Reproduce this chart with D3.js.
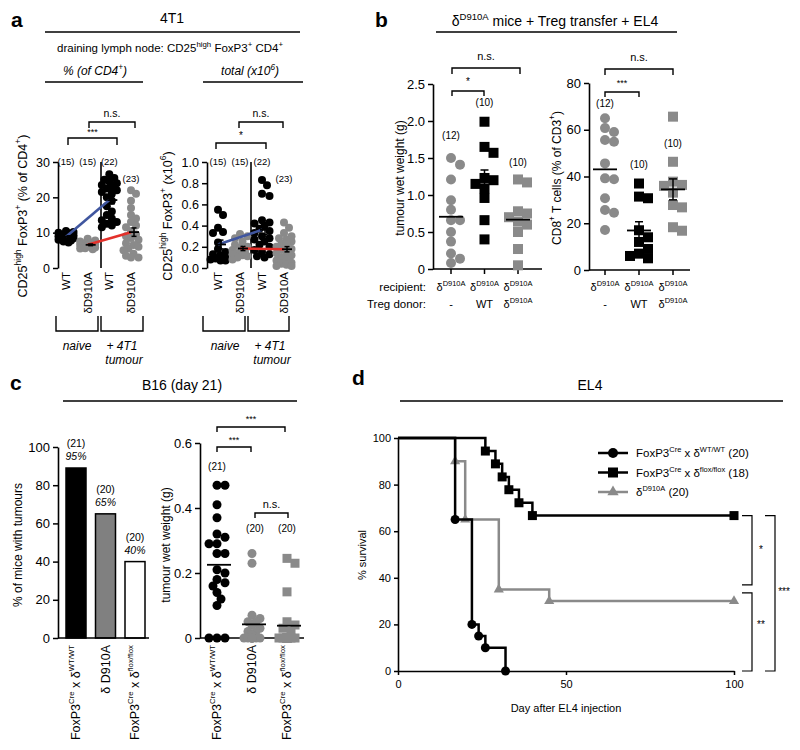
<!DOCTYPE html>
<html><head><meta charset="utf-8">
<script src="https://cdn.jsdelivr.net/npm/d3@7"></script>
<style>body{margin:0;background:#fff} svg{display:block} text{font-family:"Liberation Sans",Arial,Helvetica,sans-serif}</style>
</head><body><svg id="c" width="800" height="750"></svg>
<script>
// ================= DATA =================
// Panel a (4T1, draining lymph node CD25high FoxP3+ CD4+)
const aCategories = ["WT", "δD910A", "WT", "δD910A"];
const aCounts = ["(15)", "(15)", "(22)", "(23)"];
const aPctNaiveWT = [10.5,10.2,10.0,9.8,9.5,9.3,9.0,8.8,8.6,8.4,8.2,8.0,7.8,7.5,7.2];
const aPctNaiveD910A = [8.3,7.8,7.5,7.2,7.0,6.8,6.6,6.5,6.3,6.1,6.0,5.8,5.6,5.5,5.3];
const aPctTumourWT = [26.5,25.5,25,24.5,24,23.5,23,22.5,22,21.5,21,20,19,17.5,16,15,14,13.5,13,12.5,12,11.5];
const aPctTumourD910A = [22,21,19,17,15,14,13,12,11.5,10.5,9.5,9,8.5,8,7,6.5,6,5.5,5,4,3.5,3,3];
const aTotNaiveWT = [0.55,0.5,0.38,0.34,0.33,0.24,0.18,0.15,0.13,0.12,0.1,0.09,0.08,0.07,0.07];
const aTotNaiveD910A = [0.32,0.3,0.28,0.25,0.22,0.2,0.19,0.17,0.15,0.14,0.13,0.12,0.11,0.1,0.08];
const aTotTumourWT = [0.83,0.78,0.7,0.68,0.45,0.43,0.42,0.4,0.37,0.35,0.33,0.3,0.28,0.27,0.25,0.22,0.2,0.17,0.15,0.13,0.11,0.1];
const aTotTumourD910A = [0.43,0.38,0.33,0.3,0.28,0.27,0.25,0.23,0.22,0.2,0.18,0.17,0.15,0.14,0.12,0.1,0.09,0.07,0.05,0.04,0.03,0.02,0.02];
const aPctTicks = [0,10,20,30];
const aTotTicks = [0,0.2,0.4,0.6,0.8,1.0];

// Panel b (δD910A mice + Treg transfer + EL4)
const bRecipients = ["δ^{D910A}", "δ^{D910A}", "δ^{D910A}"];
const bDonors = ["-", "WT", "δ^{D910A}"];
const bWeightCounts = ["(12)", "(10)", "(10)"];
const bWeightNone = [1.50,1.41,1.21,0.93,0.80,0.66,0.66,0.50,0.37,0.21,0.14,0.08];
const bWeightWT = [1.99,1.65,1.57,1.23,1.20,1.15,1.09,0.96,0.66,0.40];
const bWeightD910A = [1.21,1.17,0.78,0.75,0.70,0.64,0.60,0.50,0.27,0.05];
const bWeightTicks = [0,0.5,1.0,1.5,2.0,2.5];
const bCD8Counts = ["(12)", "(10)", "(10)"];
const bCD8None = [64.9,60.7,59,55.6,54.9,45.6,39.2,38.8,30.7,25.7,24.5,17.1];
const bCD8WT = [37,31.4,30.7,17,14,12,9,7,6,5];
const bCD8D910A = [65.6,46.3,37.8,36.4,36,33.1,27.8,26.8,18.3,16.8];
const bCD8Ticks = [0,20,40,60,80];

// Panel c (B16 day 21)
const cGenotypes = ["FoxP3^{Cre} x δ^{WT/WT}", "δ D910A", "FoxP3^{Cre} x δ^{flox/flox}"];
const cTumourPct = [89, 65, 40];
const cBarCounts = ["(21)", "(20)", "(20)"];
const cBarLabels = ["95%", "65%", "40%"];
const cPctTicks = [0,20,40,60,80,100];
const cWeightCounts = ["(21)", "(20)", "(20)"];
const cWeightWT = [0.47,0.47,0.41,0.37,0.32,0.31,0.29,0.29,0.26,0.26,0.21,0.20,0.18,0.17,0.16,0.14,0.12,0.10,0,0,0];
const cWeightD910A = [0.26,0.23,0.07,0.06,0.05,0.05,0.04,0.03,0.02,0.02,0.01,0,0,0,0,0,0,0,0,0];
const cWeightFlox = [0.245,0.23,0.142,0.05,0.04,0.03,0.02,0,0,0,0,0,0,0,0,0,0,0,0,0];
const cWeightTicks = [0,0.2,0.4,0.6];

// Panel d (EL4 survival)
const dLegend = ["FoxP3^{Cre} x δ^{WT/WT} (20)", "FoxP3^{Cre} x δ^{flox/flox} (18)", "δ^{D910A} (20)"];
const dWTDays = [0,17,22,24,26,32];
const dWTSurv = [100,65,20,15,10,0];
const dFloxDays = [0,26,29,31,33,36,40,100];
const dFloxSurv = [100,94.4,88.9,83.3,77.8,72.2,66.7,66.7];
const dD910ADays = [0,17,20,30,45,100];
const dD910ASurv = [100,90,65,35,30,30];
const dXTicks = [0,50,100];
const dYTicks = [0,20,40,60,80,100];

// ================= HELPERS =================
const svg = d3.select("#c");
const GRAY = "#8a8a8a";
const BLUE = "#40569f";
const RED = "#e3312b";

function parseRich(str) {
  const segs = []; let i = 0, buf = "";
  while (i < str.length) {
    const c = str[i];
    if ((c === "^" || c === "_") && str[i+1] === "{") {
      if (buf) { segs.push({t: buf}); buf = ""; }
      const j = str.indexOf("}", i);
      segs.push({t: str.slice(i+2, j), sup: c === "^", sub: c === "_"});
      i = j + 1;
    } else { buf += c; i++; }
  }
  if (buf) segs.push({t: buf});
  return segs;
}
function rich(g, x, y, str, o = {}) {
  const fs = o.size || 12;
  const t = g.append("text").attr("x", x).attr("y", y)
    .attr("font-size", fs).attr("text-anchor", o.anchor || "start")
    .attr("fill", o.fill || "#000");
  if (o.italic) t.attr("font-style", "italic");
  if (o.weight) t.attr("font-weight", o.weight);
  if (o.baseline) t.attr("dominant-baseline", o.baseline);
  if (o.rotate) t.attr("transform", `rotate(${o.rotate},${x},${y})`);
  let cur = 0;
  const ss = o.supScale || 0.68;
  parseRich(str).forEach(s => {
    const sp = t.append("tspan").text(s.t);
    const target = s.sup ? -fs*0.42 : s.sub ? fs*0.25 : 0;
    if (target !== cur) { sp.attr("dy", target - cur); cur = target; }
    if (s.sup || s.sub) sp.attr("font-size", fs*ss);
  });
  return t;
}
function yAxis(g, scale, x, ticks, fmt, fs, tickLen = 5) {
  const a = g.append("g").attr("transform", `translate(${x},0)`)
    .call(d3.axisLeft(scale).tickValues(ticks).tickFormat(fmt).tickSize(tickLen).tickSizeOuter(0).tickPadding(3));
  a.select(".domain").attr("stroke", "#000").attr("stroke-width", 1.6);
  a.selectAll(".tick line").attr("stroke", "#000").attr("stroke-width", 1.5);
  a.selectAll("text").attr("font-size", fs).attr("fill", "#000")
    .attr("font-family", '"Liberation Sans", Arial, sans-serif');
  return a;
}
function xAxisLine(g, x0, x1, y) {
  g.append("line").attr("x1", x0).attr("x2", x1).attr("y1", y).attr("y2", y)
    .attr("stroke", "#000").attr("stroke-width", 1.6);
}
// deterministic beeswarm, horizontally clamped to +-maxHalf (overlap allowed when crowded)
function swarm(values, cx, yScale, step, minDist, maxHalf) {
  const placed = [];
  const pts = values.map(v => ({v, y: yScale(v)})).sort((a, b) => a.y - b.y);
  const cands = [0];
  for (let k = 1; k * step <= maxHalf + 0.01; k++) cands.push(k * step, -k * step);
  pts.forEach(p => {
    let best = cx, bestD = -1;
    for (const off of cands) {
      const x = cx + off;
      const d = placed.length ? d3.min(placed, q => Math.hypot(q.x - x, q.y - p.y)) : Infinity;
      if (d >= minDist) { best = x; break; }
      if (d > bestD) { bestD = d; best = x; }
    }
    placed.push({x: best, y: p.y, v: p.v});
  });
  return placed;
}
function marker(g, shape, x, y, size, fill) {
  if (shape === "circle") g.append("circle").attr("cx", x).attr("cy", y).attr("r", size).attr("fill", fill);
  else if (shape === "square") g.append("rect").attr("x", x - size).attr("y", y - size).attr("width", 2*size).attr("height", 2*size).attr("fill", fill);
  else g.append("path").attr("d", d3.symbol(d3.symbolTriangle, size*size*2.2)()).attr("transform", `translate(${x},${y})`).attr("fill", fill);
}
function meanSem(g, vals, cx, yScale, w, withSem, capW = 6) {
  const m = d3.mean(vals), s = d3.deviation(vals) / Math.sqrt(vals.length);
  if (withSem) {
    g.append("line").attr("x1", cx).attr("x2", cx).attr("y1", yScale(m - s)).attr("y2", yScale(m + s)).attr("stroke", "#000").attr("stroke-width", 1.5);
    [m - s, m + s].forEach(v => g.append("line").attr("x1", cx - capW/2).attr("x2", cx + capW/2).attr("y1", yScale(v)).attr("y2", yScale(v)).attr("stroke", "#000").attr("stroke-width", 1.5));
  }
  g.append("line").attr("x1", cx - w/2).attr("x2", cx + w/2).attr("y1", yScale(m)).attr("y2", yScale(m)).attr("stroke", "#000").attr("stroke-width", 1.8);
  return m;
}
function bracket(g, x1, x2, y, tick, label, fs, ly) {
  g.append("path").attr("d", `M${x1},${y + tick}V${y}H${x2}V${y + tick}`)
    .attr("fill", "none").attr("stroke", "#000").attr("stroke-width", 1.4);
  g.append("text").attr("x", (x1 + x2)/2).attr("y", ly).attr("text-anchor", "middle").attr("font-size", fs).attr("fill", "#000").text(label);
}
function hline(g, x1, x2, y, w = 1.6) {
  g.append("line").attr("x1", x1).attr("x2", x2).attr("y1", y).attr("y2", y).attr("stroke", "#000").attr("stroke-width", w);
}

// ================= PANEL A =================
const gA = svg.append("g");
gA.append("text").attr("x", 11).attr("y", 27).attr("font-size", 21).attr("font-weight", "bold").text("a");
gA.append("text").attr("x", 172).attr("y", 23).attr("text-anchor", "middle").attr("font-size", 14).text("4T1");
hline(gA, 45, 300, 32);
rich(gA, 170, 52, "draining lymph node:  CD25^{high} FoxP3^{+} CD4^{+}", {anchor: "middle", size: 11.5});
rich(gA, 95, 75, "% (of CD4^{+})", {anchor: "middle", size: 12, italic: true});
hline(gA, 45, 143, 82, 1.4);
rich(gA, 250, 75, "total (x10^{6})", {anchor: "middle", size: 12, italic: true});
hline(gA, 203, 303, 82, 1.4);

function drawA(groups, xS, yS, axisX, divX, ticks, fmt, ylabel, ylx) {
  yAxis(gA, yS, axisX, ticks, fmt, 12.5);
  gA.append("line").attr("x1", divX).attr("x2", divX).attr("y1", yS.range()[1]).attr("y2", yS.range()[0]).attr("stroke", "#000").attr("stroke-width", 1.6);
  const cols = ["#000", GRAY, "#000", GRAY];
  groups.forEach((vals, i) => {
    swarm(vals, xS(i), yS, 2.5, 6, 7.5).forEach(p => marker(gA, "circle", p.x, p.y, 4, cols[i]));
  });
  const means = groups.map(v => d3.mean(v));
  gA.append("line").attr("x1", xS(0)).attr("x2", xS(2)).attr("y1", yS(means[0])).attr("y2", yS(means[2])).attr("stroke", BLUE).attr("stroke-width", 2.6);
  gA.append("line").attr("x1", xS(1)).attr("x2", xS(3)).attr("y1", yS(means[1])).attr("y2", yS(means[3])).attr("stroke", RED).attr("stroke-width", 2.6);
  groups.forEach((vals, i) => meanSem(gA, vals, xS(i) + 3, yS, 10, true, 5));
  aCategories.forEach((c, i) => {
    gA.append("text").attr("x", xS(i)).attr("y", 272).attr("transform", `rotate(-90,${xS(i)},272)`)
      .attr("text-anchor", "end").attr("dominant-baseline", "central").attr("font-size", 11.5).text(c);
    gA.append("text").attr("x", xS(i)).attr("y", i === 3 ? 182 : 165).attr("text-anchor", "middle").attr("font-size", 9.5).text(aCounts[i]);
  });
  rich(gA, ylx, 216, ylabel, {anchor: "middle", size: 12.5, rotate: -90, baseline: "central"});
}
const yA1 = d3.scaleLinear().domain([0, 30]).range([268, 162]);
const xA1 = d3.scalePoint().domain([0,1,2,3]).range([66, 131]);
drawA([aPctNaiveWT, aPctNaiveD910A, aPctTumourWT, aPctTumourD910A], xA1, yA1, 58, 101, aPctTicks, d3.format("d"),
  "CD25^{high} FoxP3^{+} (% of CD4^{+})", 23);
const yA2 = d3.scaleLinear().domain([0, 1]).range([268, 162]);
const xA2 = d3.scalePoint().domain([0,1,2,3]).range([218, 284]);
drawA([aTotNaiveWT, aTotNaiveD910A, aTotTumourWT, aTotTumourD910A], xA2, yA2, 207, 251, aTotTicks, d3.format(".1f"),
  "CD25^{high} FoxP3^{+} (x10^{6})", 168);

bracket(gA, 68, 117, 138, 7, "***", 9, 135);
bracket(gA, 89, 135, 122, 6, "n.s.", 10.5, 117);
bracket(gA, 216, 266, 143, 6, "*", 10, 139);
bracket(gA, 239, 283, 122, 6, "n.s.", 10.5, 117);

[[56, 98], [101, 143], [203, 245], [248, 289]].forEach(([x1, x2]) => {
  gA.append("path").attr("d", `M${x1},316V331H${x2}V316`).attr("fill", "none").attr("stroke", "#000").attr("stroke-width", 1.4);
});
[[77, 122], [225, 270]].forEach(([n, t]) => {
  gA.append("text").attr("x", n).attr("y", 350).attr("text-anchor", "middle").attr("font-size", 12).attr("font-style", "italic").text("naive");
  gA.append("text").attr("x", t).attr("y", 350).attr("text-anchor", "middle").attr("font-size", 12).attr("font-style", "italic").text("+ 4T1");
  gA.append("text").attr("x", t + 2).attr("y", 364).attr("text-anchor", "middle").attr("font-size", 12).attr("font-style", "italic").text("tumour");
});

// ================= PANEL B =================
const gB = svg.append("g");
gB.append("text").attr("x", 375).attr("y", 27).attr("font-size", 21).attr("font-weight", "bold").text("b");
rich(gB, 555, 26, "δ^{D910A} mice + Treg transfer + EL4", {anchor: "middle", size: 14});
hline(gB, 436, 677, 32);

function drawB(groups, counts, countY, xS, yS, axisX, axisEnd, ticks, fmt, ylabel, ylx, semMask) {
  yAxis(gB, yS, axisX, ticks, fmt, 13);
  xAxisLine(gB, axisX, axisEnd, yS.range()[0]);
  const shapes = ["circle", "square", "square"];
  const cols = [GRAY, "#000", GRAY];
  xS.domain().forEach(i => {
    gB.append("line").attr("x1", xS(i)).attr("x2", xS(i)).attr("y1", yS.range()[0]).attr("y2", yS.range()[0] + 5).attr("stroke", "#000").attr("stroke-width", 1.5);
  });
  groups.forEach((vals, i) => {
    swarm(vals, xS(i), yS, 4.5, 9, 9).forEach(p => marker(gB, shapes[i], p.x, p.y, 5, cols[i]));
  });
  groups.forEach((vals, i) => meanSem(gB, vals, xS(i), yS, 24, semMask[i], 8));
  counts.forEach((c, i) => gB.append("text").attr("x", xS(i)).attr("y", countY[i]).attr("text-anchor", "middle").attr("font-size", 10).text(c));
  bRecipients.forEach((r, i) => rich(gB, xS(i), 291, r, {anchor: "middle", size: 11, supScale: 0.68}));
  bDonors.forEach((r, i) => rich(gB, xS(i), 308, r, {anchor: "middle", size: 11, supScale: 0.68}));
  rich(gB, ylx, 178, ylabel, {anchor: "middle", size: 12, rotate: -90, baseline: "central"});
}
const yB1 = d3.scaleLinear().domain([0, 2.5]).range([269, 84]);
const xB1 = d3.scalePoint().domain([0,1,2]).range([451, 518]);
drawB([bWeightNone, bWeightWT, bWeightD910A], bWeightCounts, [139, 106, 166], xB1, yB1, 433, 542, bWeightTicks,
  d => d === 0 ? "0" : d.toFixed(1), "tumour wet weight (g)", 400, [false, true, false]);
const yB2 = d3.scaleLinear().domain([0, 80]).range([270, 83]);
const xB2 = d3.scalePoint().domain([0,1,2]).range([605, 673]);
drawB([bCD8None, bCD8WT, bCD8D910A], bCD8Counts, [107, 168, 147], xB2, yB2, 589, 690, bCD8Ticks,
  d3.format("d"), "CD8^{+} T cells (% of CD3^{+})", 557, [false, true, true]);
gB.append("text").attr("x", 426).attr("y", 291).attr("text-anchor", "end").attr("font-size", 11.5).text("recipient:");
gB.append("text").attr("x", 426).attr("y", 308).attr("text-anchor", "end").attr("font-size", 11.5).text("Treg donor:");
bracket(gB, 452, 484, 91, 5, "*", 10, 85);
bracket(gB, 452, 520, 68, 6, "n.s.", 11, 60);
bracket(gB, 605, 639, 92, 5, "***", 9, 86);
bracket(gB, 605, 673, 69, 6, "n.s.", 11, 61);

// ================= PANEL C =================
const gC = svg.append("g");
gC.append("text").attr("x", 10).attr("y", 390).attr("font-size", 21).attr("font-weight", "bold").text("c");
gC.append("text").attr("x", 182).attr("y", 390).attr("text-anchor", "middle").attr("font-size", 14).text("B16 (day 21)");
hline(gC, 63, 297, 401);

const yC1 = d3.scaleLinear().domain([0, 100]).range([638, 447]);
const xC1 = d3.scalePoint().domain([0,1,2]).range([76, 135]);
yAxis(gC, yC1, 58, cPctTicks, d3.format("d"), 13);
const barFills = ["#000", "#808080", "#fff"];
cTumourPct.forEach((v, i) => {
  gC.append("rect").attr("x", xC1(i) - 10).attr("y", yC1(v)).attr("width", 20).attr("height", yC1(0) - yC1(v))
    .attr("fill", barFills[i]).attr("stroke", "#000").attr("stroke-width", 1.5);
  gC.append("text").attr("x", xC1(i)).attr("y", yC1(v) - 21).attr("text-anchor", "middle").attr("font-size", 10.5).text(cBarCounts[i]);
  gC.append("text").attr("x", xC1(i)).attr("y", yC1(v) - 8).attr("text-anchor", "middle").attr("font-size", 10.5).attr("font-style", "italic").text(cBarLabels[i]);
});
xAxisLine(gC, 58, 149, 638);
rich(gC, 18, 545, "% of mice with tumours", {anchor: "middle", size: 12, rotate: -90, baseline: "central"});

const yC2 = d3.scaleLinear().domain([0, 0.6]).range([638, 443]);
const xC2 = d3.scalePoint().domain([0,1,2]).range([217, 287]);
yAxis(gC, yC2, 200, cWeightTicks, d => d === 0 ? "0" : d.toFixed(1), 13);
xAxisLine(gC, 200, 304, 638);
const cShapes = ["circle", "circle", "square"], cCols = ["#000", GRAY, GRAY];
const cHalf = [8, 10, 11];
[cWeightWT, cWeightD910A, cWeightFlox].forEach((vals, i) => {
  swarm(vals, xC2(i), yC2, 4, 7, cHalf[i]).forEach(p => marker(gC, cShapes[i], p.x, p.y, 4.5, cCols[i]));
});
[cWeightWT, cWeightD910A, cWeightFlox].forEach((vals, i) => meanSem(gC, vals, xC2(i) + 2, yC2, 24, false));
cWeightCounts.forEach((c, i) => gC.append("text").attr("x", xC2(i) + (i === 1 ? 3 : 0)).attr("y", i === 0 ? 470 : 532).attr("text-anchor", "middle").attr("font-size", 10).text(c));
rich(gC, 166, 545, "tumour wet weight (g)", {anchor: "middle", size: 12, rotate: -90, baseline: "central"});
bracket(gC, 217, 251, 447, 5, "***", 9, 443);
bracket(gC, 217, 285, 427, 5, "***", 9, 422);
bracket(gC, 255, 288, 513, 5, "n.s.", 11, 508);
cGenotypes.forEach((gname, i) => {
  rich(gC, xC1(i), 645, gname, {anchor: "end", size: 12.5, rotate: -90, baseline: "central", supScale: 0.62});
  rich(gC, xC2(i), 645, gname, {anchor: "end", size: 12.5, rotate: -90, baseline: "central", supScale: 0.62});
});

// ================= PANEL D =================
const gD = svg.append("g");
gD.append("text").attr("x", 352).attr("y", 385).attr("font-size", 21).attr("font-weight", "bold").text("d");
gD.append("text").attr("x", 590).attr("y", 390).attr("text-anchor", "middle").attr("font-size", 14).text("EL4");
hline(gD, 400, 783, 401);
const xD = d3.scaleLinear().domain([0, 100]).range([398, 734]);
const yD = d3.scaleLinear().domain([0, 100]).range([671, 438]);
yAxis(gD, yD, 398, dYTicks, d3.format("d"), 11, 4);
const axB = gD.append("g").attr("transform", "translate(0,671)")
  .call(d3.axisBottom(xD).tickValues(dXTicks).tickSize(4).tickSizeOuter(0).tickPadding(5));
axB.select(".domain").attr("stroke", "#000").attr("stroke-width", 1.6);
axB.selectAll(".tick line").attr("stroke", "#000").attr("stroke-width", 1.5);
axB.selectAll("text").attr("font-size", 11).attr("fill", "#000").attr("font-family", '"Liberation Sans", Arial, sans-serif');
gD.append("text").attr("x", 566).attr("y", 712).attr("text-anchor", "middle").attr("font-size", 11).text("Day after EL4 injection");
rich(gD, 362, 555, "% survival", {anchor: "middle", size: 11, rotate: -90, baseline: "central"});

const stepLine = d3.line().x(d => xD(d[0])).y(d => yD(d[1])).curve(d3.curveStepAfter);
const curves = [
  {days: dD910ADays, surv: dD910ASurv, col: GRAY, shape: "triangle"},
  {days: dFloxDays, surv: dFloxSurv, col: "#000", shape: "square"},
  {days: dWTDays, surv: dWTSurv, col: "#000", shape: "circle"}
];
curves.forEach(c => {
  const pts = c.days.map((d, i) => [d, c.surv[i]]);
  gD.append("path").attr("d", stepLine(pts)).attr("fill", "none").attr("stroke", c.col).attr("stroke-width", 2.5);
  pts.slice(1).forEach(p => marker(gD, c.shape, xD(p[0]), yD(p[1]), 4.5, c.col));
});
const legShapes = ["circle", "square", "triangle"], legCols = ["#000", "#000", GRAY];
dLegend.forEach((l, i) => {
  const y = 453 + i * 19.5;
  gD.append("line").attr("x1", 598).attr("x2", 628).attr("y1", y).attr("y2", y).attr("stroke", legCols[i]).attr("stroke-width", 2.5);
  marker(gD, legShapes[i], 613, y, 5, legCols[i]);
  rich(gD, 636, y + 4, l, {size: 11.5, supScale: 0.65});
});
function vbracket(g, x, y1, y2, label, ly) {
  g.append("path").attr("d", `M${x - 10},${y1}H${x}V${y2}H${x - 10}`).attr("fill", "none").attr("stroke", "#000").attr("stroke-width", 1.2);
  g.append("text").attr("x", x + 9).attr("y", ly).attr("text-anchor", "middle").attr("font-size", 10).attr("fill", "#000").text(label);
}
vbracket(gD, 752, yD(66.7), yD(37), "*", 553);
vbracket(gD, 752, yD(33.5), yD(0), "**", 628);
vbracket(gD, 775, yD(66.7), yD(0), "***", 595);
</script></body></html>
